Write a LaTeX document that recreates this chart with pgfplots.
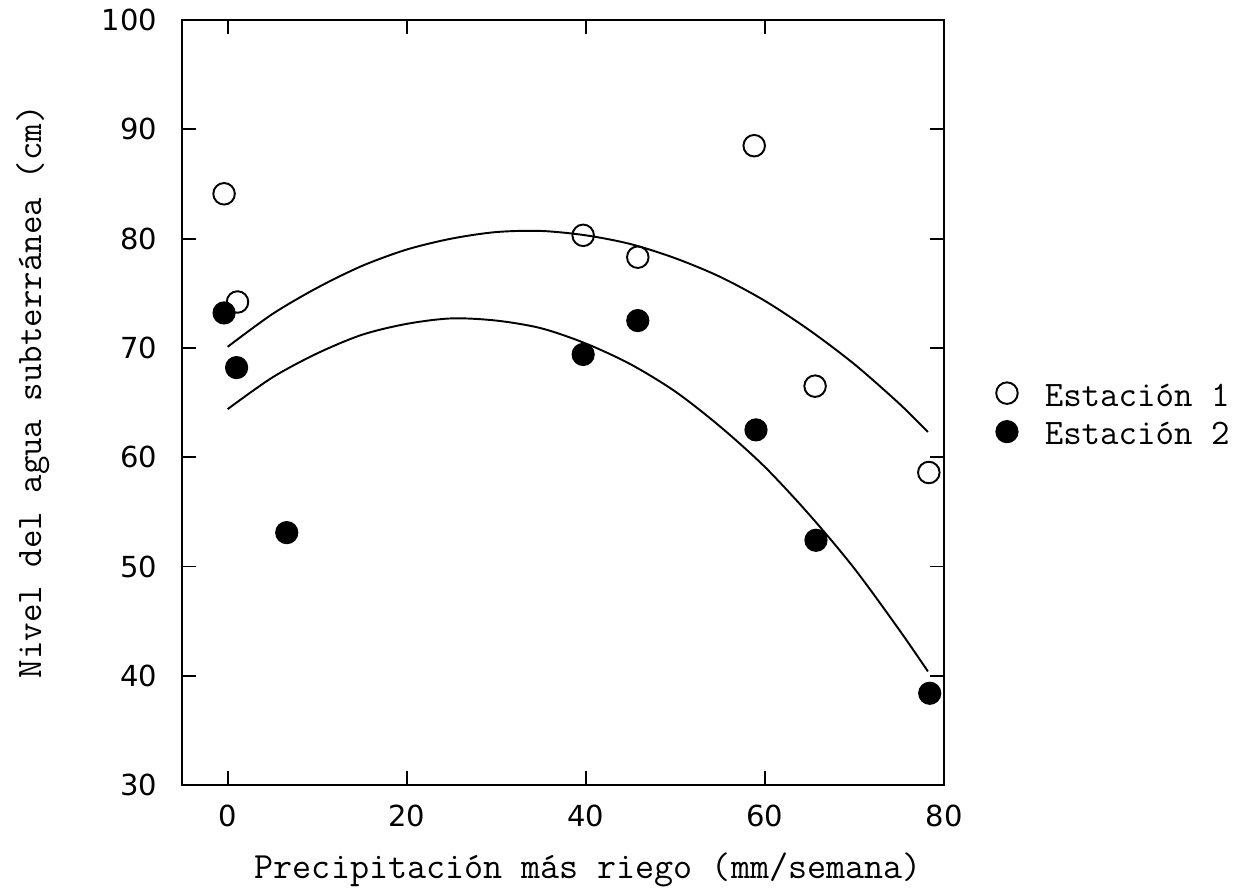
\documentclass[border=0pt]{standalone}
\usepackage{fontspec}
\setmainfont{Latin Modern Mono}
\newfontfamily\tickfont{DejaVu Sans}
\usepackage{pgfplots}
\pgfplotsset{compat=1.18}
\pgfplotstableread{
x y
-0.4 84.1
1.1 74.2
39.7 80.3
45.8 78.3
58.8 88.5
65.6 66.5
78.3 58.6
}\estuno
\pgfplotstableread{
x y
-0.4 73.2
1.0 68.2
6.6 53.1
39.7 69.4
45.8 72.5
59.0 62.5
65.7 52.4
78.4 38.4
}\estdos
\pgfplotstableread{
x y
0 70.1
5 73.1
10 75.5
15 77.5
20 79.0
25 80.0
30 80.6
35 80.7
40 80.3
45 79.5
50 78.2
55 76.5
60 74.3
65 71.6
70 68.5
75 64.9
78.2 62.3
}\fituno
\pgfplotstableread{
x y
0 64.4
5 67.3
10 69.5
15 71.2
20 72.2
25 72.7
30 72.5
35 71.8
40 70.4
45 68.5
50 66.0
55 62.8
60 59.1
65 54.7
70 49.8
75 44.2
78.2 40.4
}\fitdos
\begin{document}
\begin{tikzpicture}
\begin{axis}[
  at={(0,0)}, anchor=south west,
  scale only axis, width=276.1pt, height=277.2pt,
  xmin=-5.1, xmax=80, ymin=30, ymax=100,
  xtick={0,20,40,60,80}, ytick={30,40,50,60,70,80,90,100},
  tick align=inside, major tick length=5pt,
  tick style={black, line width=0.7pt},
  axis line style={black, line width=0.8pt},
  /pgf/number format/assume math mode=true,
  tick label style={font=\tickfont\fontsize{10.5}{12}\selectfont},
  xticklabel style={yshift=-3.6pt},
  yticklabel style={xshift=-5.5pt},
  xlabel={Precipitación más riego (mm/semana)},
  ylabel={Nivel del agua subterránea (cm)},
  xlabel style={font=\fontsize{13.4}{15}\selectfont, at={(axis description cs:0.533,-0.1216)}, anchor=base},
  ylabel style={font=\fontsize{13}{15}\selectfont, at={(axis description cs:-0.185,0.514)}, anchor=base},
  legend style={at={(rel axis cs:1.0565,0.481)}, anchor=west, draw=none, fill=none,
    font=\fontsize{13}{15}\selectfont,
    nodes={inner ysep=0pt, text height=10pt, text depth=3.95pt}},
  legend cell align=left,
  legend image code/.code={\draw[#1] plot coordinates {(0pt,1.7pt)}; \path (0pt,0pt) (11.5pt,0pt);},
]
\addplot[only marks, mark=o, mark size=3.9pt, mark options={line width=0.7pt, black}] table {\estuno};
\addlegendentry{Estación 1}
\addplot[only marks, mark=*, mark size=4pt, mark options={black, fill=black}] table {\estdos};
\addlegendentry{Estación 2}
\addplot[smooth, black, line width=0.7pt, forget plot] table {\fituno};
\addplot[smooth, black, line width=0.7pt, forget plot] table {\fitdos};
\end{axis}
\pgfresetboundingbox
\path (-65.94pt,-37.32pt) rectangle (384.06pt,284.45pt);
\end{tikzpicture}
\end{document}
